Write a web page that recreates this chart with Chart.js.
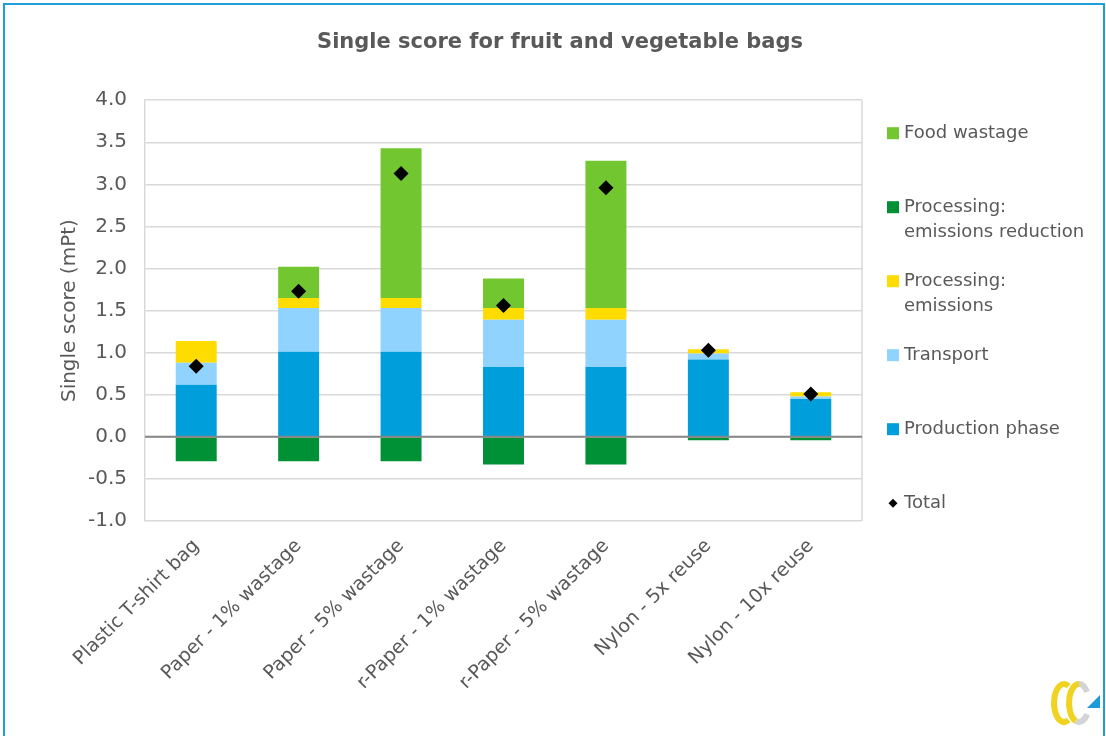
<!DOCTYPE html>
<html>
<head>
<meta charset="utf-8">
<script src="https://cdn.jsdelivr.net/npm/chart.js@4.4.1/dist/chart.umd.min.js"></script>
<style>
  html, body { margin: 0; padding: 0; background: #ffffff; }
  #wrap { position: absolute; left: 0; top: 0; width: 1106px; height: 736px; }
</style>
</head>
<body>
<div id="wrap"><canvas id="c" width="1106" height="736"></canvas></div>
<script>
const categories = ['Plastic T-shirt bag', 'Paper - 1% wastage', 'Paper - 5% wastage', 'r-Paper - 1% wastage', 'r-Paper - 5% wastage', 'Nylon - 5x reuse', 'Nylon - 10x reuse'];
const productionPhase = [0.62, 1.01, 1.01, 0.83, 0.83, 0.92, 0.45];
const transport = [0.26, 0.52, 0.52, 0.56, 0.56, 0.07, 0.03];
const processingEmissions = [0.26, 0.12, 0.12, 0.14, 0.14, 0.05, 0.05];
const foodWastage = [0, 0.37, 1.78, 0.35, 1.75, 0, 0];
const emissionsReduction = [-0.29, -0.29, -0.29, -0.33, -0.33, -0.04, -0.04];
const total = [0.84, 1.73, 3.13, 1.56, 2.96, 1.03, 0.51];
const yTickValues = [-1.0, -0.5, 0.0, 0.5, 1.0, 1.5, 2.0, 2.5, 3.0, 3.5, 4.0];

const TXT = '#595959';
const FONT = "'DejaVu Sans', sans-serif";

const legendOrder = [3, 4, 2, 1, 0, 5];

const decorPlugin = {
  id: 'decor',
  beforeDraw(chart) {
    const ctx = chart.ctx;
    ctx.save();
    ctx.strokeStyle = '#1f9fd9';
    ctx.lineWidth = 2;
    ctx.beginPath();
    ctx.moveTo(4, 740);
    ctx.lineTo(4, 4);
    ctx.lineTo(1104, 4);
    ctx.lineTo(1104, 740);
    ctx.stroke();
    // logo (bottom right)
    ctx.lineWidth = 6;
    ctx.strokeStyle = '#f0d320';
    ctx.beginPath();
    ctx.ellipse(1064, 703, 10, 19, 0, Math.PI * 0.35, Math.PI * 1.65);
    ctx.stroke();
    ctx.beginPath();
    ctx.ellipse(1079, 703, 10, 19, 0, Math.PI * 0.6, Math.PI * 1.5);
    ctx.stroke();
    ctx.strokeStyle = '#d4d4d4';
    ctx.beginPath();
    ctx.ellipse(1079, 703, 10, 19, 0, Math.PI * 1.5, Math.PI * 1.8);
    ctx.stroke();
    ctx.beginPath();
    ctx.ellipse(1079, 703, 10, 19, 0, Math.PI * 0.2, Math.PI * 0.6);
    ctx.stroke();
    ctx.fillStyle = '#1e9ad7';
    ctx.beginPath();
    ctx.moveTo(1087, 708);
    ctx.lineTo(1100, 708);
    ctx.lineTo(1100, 695);
    ctx.closePath();
    ctx.fill();
    ctx.restore();
  },
  afterDatasetsDraw(chart) {
    const ctx = chart.ctx;
    const a = chart.chartArea;
    const y = chart.scales.y;
    ctx.save();
    ctx.strokeStyle = '#d9d9d9';
    ctx.lineWidth = 1.5;
    ctx.beginPath();
    ctx.moveTo(a.right, a.top);
    ctx.lineTo(a.right, a.bottom);
    ctx.stroke();
    const y0 = y.getPixelForValue(0);
    ctx.strokeStyle = '#868686';
    ctx.lineWidth = 2;
    ctx.beginPath();
    ctx.moveTo(a.left, y0);
    ctx.lineTo(a.right, y0);
    ctx.stroke();
    ctx.restore();
  },
  afterDraw(chart) {
    const ctx = chart.ctx;
    const a = chart.chartArea;
    ctx.save();
    ctx.font = "18px " + FONT;
    ctx.fillStyle = TXT;
    ctx.textBaseline = 'middle';
    ctx.textAlign = 'left';
    const x0 = a.right + 25;
    const step = 74;
    legendOrder.forEach((di, i) => {
      const ds = chart.data.datasets[di];
      const cy = a.top + 33 + i * step;
      if (ds.type === 'line') {
        ctx.fillStyle = '#000';
        ctx.beginPath();
        ctx.moveTo(x0 + 6, cy - 4.5);
        ctx.lineTo(x0 + 10.5, cy);
        ctx.lineTo(x0 + 6, cy + 4.5);
        ctx.lineTo(x0 + 1.5, cy);
        ctx.closePath();
        ctx.fill();
      } else {
        ctx.fillStyle = ds.backgroundColor;
        ctx.fillRect(x0, cy - 6, 12, 12);
      }
      ctx.fillStyle = TXT;
      const lines = ds.label.split('\n');
      lines.forEach((t, k) => ctx.fillText(t, x0 + 17, cy + k * 25));
    });
    ctx.restore();
  }
};

const barCommon = { type: 'bar', barPercentage: 0.4, categoryPercentage: 1.0, borderWidth: 0, stack: 's' };

new Chart(document.getElementById('c'), {
  data: {
    labels: categories,
    datasets: [
      Object.assign({ label: 'Production phase', data: productionPhase, backgroundColor: '#009edb' }, barCommon),
      Object.assign({ label: 'Transport', data: transport, backgroundColor: '#8fd3fe' }, barCommon),
      Object.assign({ label: 'Processing:\nemissions', data: processingEmissions, backgroundColor: '#ffdc00' }, barCommon),
      Object.assign({ label: 'Food wastage', data: foodWastage, backgroundColor: '#72c630' }, barCommon),
      Object.assign({ label: 'Processing:\nemissions reduction', data: emissionsReduction, backgroundColor: '#009035' }, barCommon),
      { type: 'line', label: 'Total', data: total, stack: 'total', order: -1, showLine: false,
        pointStyle: 'rectRot', pointRadius: 7.5, pointHoverRadius: 7.5, backgroundColor: '#000', borderColor: '#000', borderWidth: 0 }
    ]
  },
  options: {
    responsive: false,
    animation: false,
    devicePixelRatio: 1,
    layout: { padding: { left: 14, right: 0, top: 0, bottom: 0 } },
    plugins: {
      legend: { display: false },
      tooltip: { enabled: false },
      title: {
        display: true,
        text: 'Single score for fruit and vegetable bags',
        color: TXT,
        font: { family: FONT, size: 21, weight: 'bold' },
        padding: { top: 30, bottom: 45 }
      }
    },
    scales: {
      x: {
        stacked: true,
        grid: { display: false },
        border: { display: false },
        ticks: { color: TXT, font: { family: FONT, size: 19 }, minRotation: 45, maxRotation: 45, padding: 6, autoSkip: false },
        afterFit: s => { s.height = 215; }
      },
      y: {
        stacked: true,
        min: -1, max: 4,
        afterBuildTicks: s => { s.ticks = yTickValues.map(v => ({ value: v })); },
        ticks: { color: TXT, font: { family: FONT, size: 20 }, padding: 18, callback: v => Number(v).toFixed(1) },
        grid: { color: '#d9d9d9', lineWidth: 1.5, drawTicks: false },
        border: { color: '#d9d9d9', width: 1.5 },
        title: { display: true, text: 'Single score (mPt)', color: TXT, font: { family: FONT, size: 20 }, padding: { top: 44, bottom: 0 } },
        afterFit: s => { s.width = 131; }
      },
      yR: {
        position: 'right',
        display: true,
        grid: { display: false },
        border: { display: false },
        ticks: { display: false },
        afterFit: s => { s.width = 244; }
      }
    }
  },
  plugins: [decorPlugin]
});
</script>
</body>
</html>
